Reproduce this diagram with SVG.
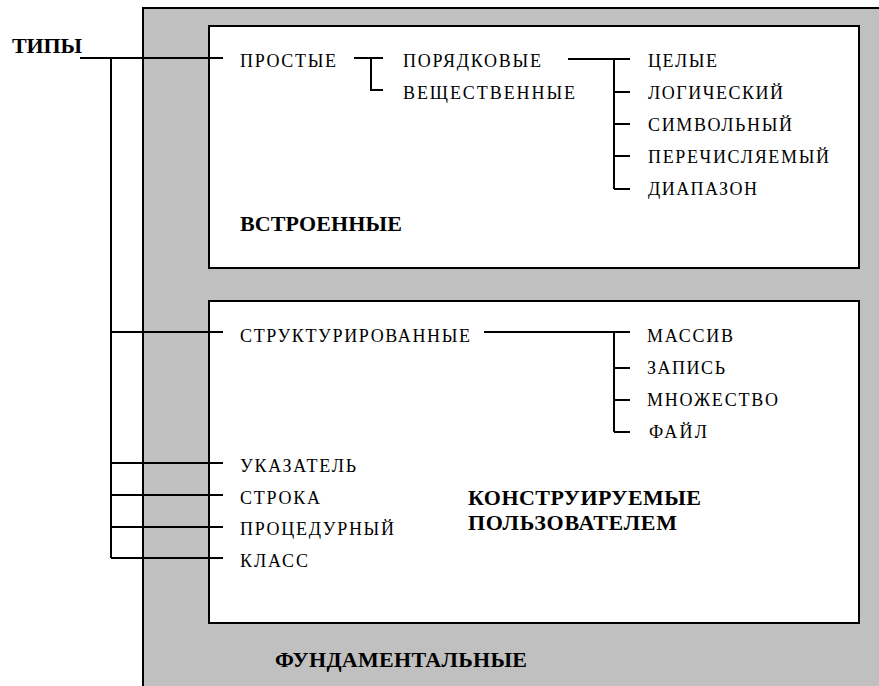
<svg xmlns="http://www.w3.org/2000/svg" width="879" height="686" viewBox="0 0 879 686">
<style>
.t{font-family:"Liberation Serif","DejaVu Serif","Times New Roman",serif;font-size:18px;fill:#000}
.b{font-family:"Liberation Serif","DejaVu Serif","Times New Roman",serif;font-size:22px;font-weight:bold;fill:#000}
.ln{stroke:#000;stroke-width:2;fill:none}
.box{fill:#fff;stroke:#000;stroke-width:2}
</style>
<rect width="879" height="686" fill="#fff"/>
<g id="fundamental">
<rect x="143" y="8" width="740" height="690" fill="#c0c0c0" stroke="#000" stroke-width="2"/>
<text class="b" x="275" y="667" textLength="252" lengthAdjust="spacing">ФУНДАМЕНТАЛЬНЫЕ</text>
</g>
<g id="builtin">
<rect class="box" x="209" y="26" width="650" height="242"/>
<text class="b" x="240" y="231" textLength="162" lengthAdjust="spacing">ВСТРОЕННЫЕ</text>
</g>
<g id="userdefined">
<rect class="box" x="209" y="301" width="650" height="322"/>
<text class="b" x="468" y="505" textLength="233" lengthAdjust="spacing">КОНСТРУИРУЕМЫЕ</text>
<text class="b" x="468" y="530" textLength="209" lengthAdjust="spacing">ПОЛЬЗОВАТЕЛЕМ</text>
</g>
<g id="connectors">
<path class="ln" d="M80 58H223M111 58V558M111 332H223M111 463H223M111 495H223M111 527H223M111 558H223"/>
<path class="ln" d="M354 58H383M371 58V90H383"/>
<path class="ln" d="M568 59H630M614 59V189M614 92H630M614 124H630M614 156H630M614 189H630"/>
<path class="ln" d="M484 332H630M614 332V432M614 368H630M614 400H630M614 432H630"/>
</g>
<g id="n-tipy"><text class="b" x="12" y="53" textLength="70" lengthAdjust="spacing">ТИПЫ</text></g>
<g id="n-prostye"><text class="t" x="240" y="67" textLength="96" lengthAdjust="spacing">ПРОСТЫЕ</text></g>
<g id="n-poryadkovye"><text class="t" x="403" y="67" textLength="138" lengthAdjust="spacing">ПОРЯДКОВЫЕ</text></g>
<g id="n-veshch"><text class="t" x="403" y="99" textLength="172" lengthAdjust="spacing">ВЕЩЕСТВЕННЫЕ</text></g>
<g id="n-celye"><text class="t" x="648" y="67" textLength="69" lengthAdjust="spacing">ЦЕЛЫЕ</text></g>
<g id="n-logich"><text class="t" x="648" y="99" textLength="135" lengthAdjust="spacing">ЛОГИЧЕСКИЙ</text></g>
<g id="n-simv"><text class="t" x="648" y="131" textLength="144" lengthAdjust="spacing">СИМВОЛЬНЫЙ</text></g>
<g id="n-perech"><text class="t" x="648" y="163" textLength="181" lengthAdjust="spacing">ПЕРЕЧИСЛЯЕМЫЙ</text></g>
<g id="n-diap"><text class="t" x="648" y="195" textLength="109" lengthAdjust="spacing">ДИАПАЗОН</text></g>
<g id="n-struct"><text class="t" x="240" y="342" textLength="230" lengthAdjust="spacing">СТРУКТУРИРОВАННЫЕ</text></g>
<g id="n-massiv"><text class="t" x="647" y="342" textLength="86" lengthAdjust="spacing">МАССИВ</text></g>
<g id="n-zapis"><text class="t" x="647" y="374" textLength="78" lengthAdjust="spacing">ЗАПИСЬ</text></g>
<g id="n-mnozh"><text class="t" x="647" y="406" textLength="131" lengthAdjust="spacing">МНОЖЕСТВО</text></g>
<g id="n-fail"><text class="t" x="649" y="438" textLength="58" lengthAdjust="spacing">ФАЙЛ</text></g>
<g id="n-ukaz"><text class="t" x="240" y="472" textLength="116" lengthAdjust="spacing">УКАЗАТЕЛЬ</text></g>
<g id="n-stroka"><text class="t" x="240" y="504" textLength="80" lengthAdjust="spacing">СТРОКА</text></g>
<g id="n-proc"><text class="t" x="240" y="535" textLength="154" lengthAdjust="spacing">ПРОЦЕДУРНЫЙ</text></g>
<g id="n-klass"><text class="t" x="240" y="567" textLength="68" lengthAdjust="spacing">КЛАСС</text></g>
</svg>
